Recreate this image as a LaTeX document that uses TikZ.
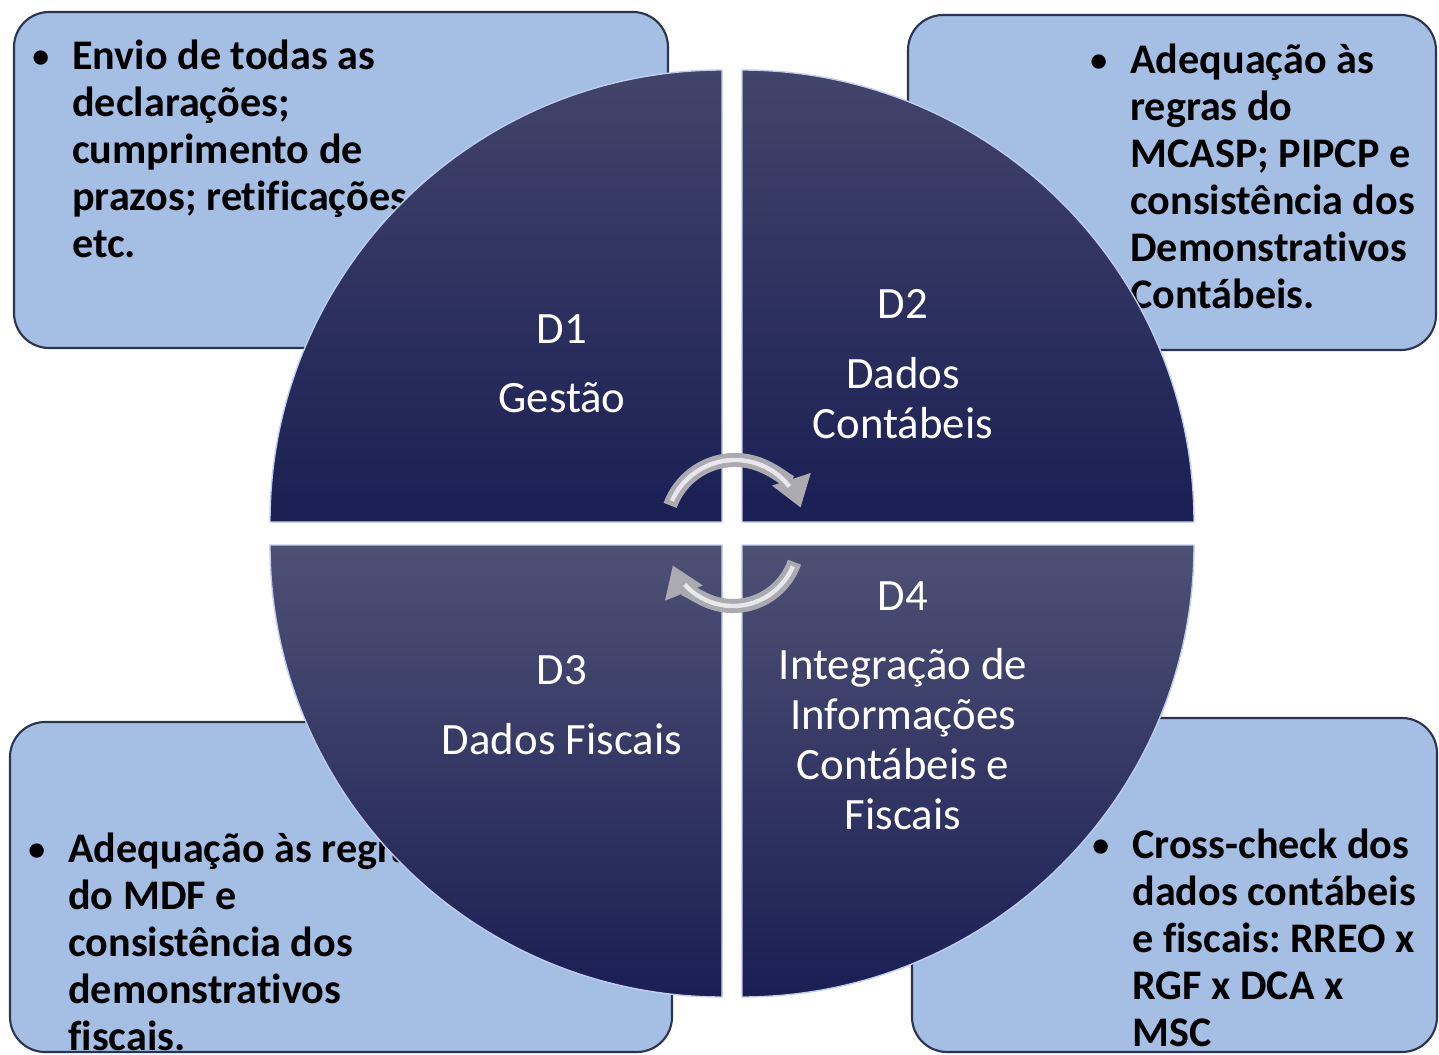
\documentclass[tikz,border=0pt]{standalone}
\usepackage{fontspec}
\setmainfont{Carlito}[Ligatures=NoCommon]
\usetikzlibrary{arrows.meta}
\frenchspacing

\definecolor{boxfill}{RGB}{165,190,227}
\definecolor{boxline}{RGB}{42,52,78}
\definecolor{quadtop}{RGB}{66,68,106}
\definecolor{quadlow}{RGB}{78,80,116}
\definecolor{quadbot}{RGB}{26,31,84}
\definecolor{quadedge}{RGB}{190,205,240}
\definecolor{arrowgray}{RGB}{170,170,176}
\definecolor{arrowhi}{RGB}{232,232,236}

\begin{document}
\begin{tikzpicture}[
    x=0.02cm, y=-0.02cm,
    infobox/.style={draw=boxline, line width=1.2pt, fill=boxfill, rounded corners=20pt},
    infotext/.style={anchor=north west, inner sep=0pt, align=left, font=\fontsize{24}{26.7}\selectfont\bfseries},
    quad/.style={draw=quadedge, line width=0.8pt, top color=quadtop, bottom color=quadbot},
    dlabel/.style={text=white, inner sep=0pt, font=\fontsize{25.5}{28.4}\selectfont},
    dtitle/.style={text=white, inner sep=0pt, align=center, font=\fontsize{25.5}{28.4}\selectfont},
    cyc/.style={line width=8pt, draw=arrowgray, -{Triangle[length=17pt, width=22pt]}},
    cychi/.style={line width=2.5pt, draw=arrowhi}
]
\useasboundingbox (0,0) rectangle (1439,1054);
\fill[white] (0,0) rectangle (1439,1054);
\clip (0,0) rectangle (1439,1054);

% corner boxes
\draw[infobox] (14,12) rectangle (668,348);
\draw[infobox] (908,15) rectangle (1436,350);
\draw[infobox] (10,722) rectangle (672,1052);
\draw[infobox] (912,718) rectangle (1437,1052);

\newcommand{\bul}{\llap{\raisebox{0.05em}{\scalebox{0.8}{\textbullet}}\hspace{0.55em}}}
\node[infotext] (gestao_txt) at (72,40) {\bul Envio de todas as\\declarações;\\cumprimento de\\prazos; retificações\\etc.};
\node[infotext] (contab_txt) at (1130,44) {\bul Adequação às\\regras do\\MCASP; PIPCP e\\consistência dos\\Demonstrativos\\Contábeis.};
\node[infotext] (fiscal_txt) at (68,833) {\bul Adequação às regras\\do MDF e\\consistência dos\\demonstrativos\\fiscais.};
\node[infotext] (integ_txt) at (1132,829) {\bul Cross-check dos\\dados contábeis\\e fiscais: RREO x\\RGF x DCA x\\MSC};

% quadrants of the circle
\path[quad] (722,522) -- ++(-452,0) arc[start angle=180, end angle=270, radius=452] -- cycle;
\path[quad] (742,522) -- ++(0,-452) arc[start angle=270, end angle=360, radius=452] -- cycle;
\path[quad, top color=quadlow] (722,545) -- ++(-452,0) arc[start angle=180, end angle=90, radius=452] -- cycle;
\path[quad, top color=quadlow] (742,545) -- ++(452,0) arc[start angle=0, end angle=90, radius=452] -- cycle;

% quadrant labels
\node[dlabel] (d1) at (562,329) {D1};
\node[dtitle] (gestao) at (562,398) {Gestão};
\node[dlabel] (d2) at (903,304) {D2};
\node[dtitle] (contabeis) at (903,398) {Dados\\Contábeis};
\node[dlabel] (d3) at (562,670) {D3};
\node[dtitle] (fiscais) at (562,739) {Dados Fiscais};
\node[dlabel] (d4) at (903,596) {D4};
\node[dtitle] (integracao) at (903,739) {Integração de\\Informações\\Contábeis e\\Fiscais};

% cycle arrows
\coordinate (topc) at (735,529);
\coordinate (botc) at (733,541);
\draw[cyc] (topc) ++(200:69) arc[start angle=200, end angle=342, radius=69];
\draw[cychi] (topc) ++(204:69) arc[start angle=204, end angle=322, radius=69];
\draw[cyc] (botc) ++(19:65) arc[start angle=19, end angle=158, radius=65];
\draw[cychi] (botc) ++(23:65) arc[start angle=23, end angle=138, radius=65];

\end{tikzpicture}
\end{document}
